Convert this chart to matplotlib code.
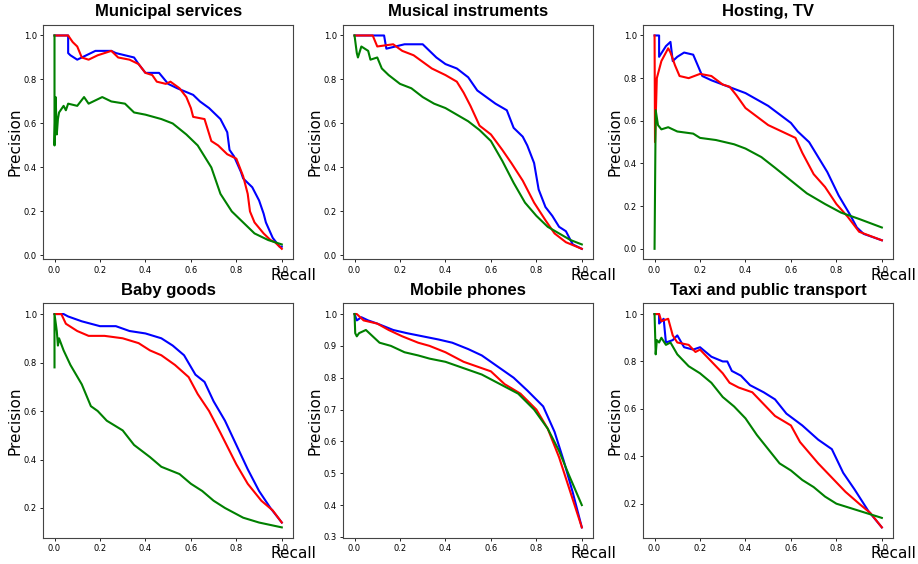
import matplotlib
matplotlib.use('Agg')
import matplotlib.pyplot as plt

titles = ['Municipal services', 'Musical instruments', 'Hosting, TV',
          'Baby goods', 'Mobile phones', 'Taxi and public transport']

# --- Municipal services
ms_blue_r = [0, 0.06, 0.06, 0.07, 0.10, 0.18, 0.25, 0.27, 0.35, 0.37, 0.40, 0.46, 0.50, 0.54, 0.61, 0.64,
             0.68, 0.73, 0.76, 0.77, 0.79, 0.82, 0.83, 0.87, 0.90, 0.92, 0.93, 0.96, 0.99, 1.0]
ms_blue_p = [1.0, 1.0, 0.92, 0.91, 0.89, 0.93, 0.93, 0.92, 0.90, 0.87, 0.83, 0.83, 0.78, 0.76, 0.73, 0.70,
             0.67, 0.62, 0.56, 0.48, 0.45, 0.38, 0.35, 0.31, 0.25, 0.19, 0.15, 0.08, 0.04, 0.04]
ms_red_r = [0, 0.06, 0.08, 0.10, 0.12, 0.15, 0.19, 0.25, 0.28, 0.33, 0.37, 0.40, 0.43, 0.45, 0.49, 0.51,
            0.55, 0.58, 0.60, 0.61, 0.66, 0.69, 0.72, 0.76, 0.80, 0.83, 0.85, 0.86, 0.88, 0.92, 0.95, 0.97, 1.0]
ms_red_p = [1.0, 1.0, 0.97, 0.95, 0.90, 0.89, 0.91, 0.93, 0.90, 0.89, 0.87, 0.83, 0.82, 0.79, 0.78, 0.79,
            0.76, 0.72, 0.67, 0.63, 0.62, 0.52, 0.50, 0.46, 0.44, 0.36, 0.28, 0.20, 0.15, 0.10, 0.07, 0.06, 0.03]
ms_green_r = [0, 0, 0.005, 0.01, 0.015, 0.02, 0.04, 0.05, 0.06, 0.10, 0.13, 0.15, 0.21, 0.25, 0.31, 0.35,
              0.40, 0.47, 0.52, 0.58, 0.63, 0.69, 0.73, 0.78, 0.84, 0.88, 0.94, 1.0]
ms_green_p = [1.0, 0.50, 0.72, 0.55, 0.62, 0.65, 0.68, 0.66, 0.69, 0.68, 0.72, 0.69, 0.72, 0.70, 0.69, 0.65,
              0.64, 0.62, 0.60, 0.55, 0.50, 0.40, 0.28, 0.20, 0.14, 0.10, 0.07, 0.05]

# --- Musical instruments
mi_blue_r = [0, 0.13, 0.14, 0.22, 0.30, 0.33, 0.36, 0.40, 0.45, 0.50, 0.54, 0.58, 0.62, 0.67, 0.70, 0.74,
             0.76, 0.79, 0.81, 0.84, 0.87, 0.90, 0.93, 0.96, 1.0]
mi_blue_p = [1.0, 1.0, 0.94, 0.96, 0.96, 0.93, 0.90, 0.87, 0.85, 0.81, 0.75, 0.72, 0.69, 0.66, 0.58, 0.54,
             0.50, 0.42, 0.30, 0.22, 0.18, 0.13, 0.11, 0.05, 0.03]
mi_red_r = [0, 0.08, 0.10, 0.17, 0.21, 0.26, 0.30, 0.34, 0.40, 0.45, 0.48, 0.51, 0.55, 0.60, 0.65, 0.69,
            0.74, 0.79, 0.84, 0.88, 0.93, 1.0]
mi_red_p = [1.0, 1.0, 0.95, 0.96, 0.93, 0.91, 0.88, 0.85, 0.82, 0.79, 0.74, 0.68, 0.59, 0.55, 0.48, 0.42,
            0.34, 0.24, 0.16, 0.10, 0.06, 0.03]
mi_green_r = [0, 0.01, 0.015, 0.03, 0.06, 0.07, 0.10, 0.12, 0.15, 0.20, 0.25, 0.30, 0.35, 0.40, 0.45, 0.50,
              0.55, 0.60, 0.65, 0.70, 0.75, 0.80, 0.85, 0.90, 0.95, 1.0]
mi_green_p = [1.0, 0.92, 0.90, 0.95, 0.93, 0.89, 0.90, 0.85, 0.82, 0.78, 0.76, 0.72, 0.69, 0.67, 0.64, 0.61,
              0.57, 0.52, 0.43, 0.33, 0.24, 0.18, 0.13, 0.10, 0.07, 0.05]

# --- Hosting, TV
ht_blue_r = [0, 0.02, 0.02, 0.05, 0.07, 0.08, 0.10, 0.13, 0.17, 0.19, 0.21, 0.25, 0.30, 0.35, 0.40, 0.45,
             0.50, 0.55, 0.60, 0.63, 0.68, 0.72, 0.76, 0.81, 0.86, 0.89, 0.92, 1.0]
ht_blue_p = [1.0, 1.0, 0.90, 0.95, 0.97, 0.88, 0.90, 0.92, 0.91, 0.86, 0.81, 0.79, 0.77, 0.75, 0.73, 0.70,
             0.67, 0.63, 0.59, 0.55, 0.50, 0.43, 0.36, 0.25, 0.16, 0.10, 0.07, 0.04]
ht_red_r = [0, 0.002, 0.01, 0.03, 0.06, 0.07, 0.09, 0.11, 0.15, 0.20, 0.25, 0.30, 0.33, 0.36, 0.40, 0.45,
            0.50, 0.56, 0.62, 0.65, 0.70, 0.75, 0.80, 0.85, 0.90, 0.95, 1.0]
ht_red_p = [1.0, 0.50, 0.80, 0.88, 0.94, 0.92, 0.86, 0.81, 0.80, 0.82, 0.81, 0.77, 0.76, 0.72, 0.66, 0.62,
            0.58, 0.55, 0.52, 0.45, 0.35, 0.29, 0.21, 0.15, 0.08, 0.06, 0.04]
ht_green_r = [0, 0.005, 0.015, 0.03, 0.06, 0.10, 0.17, 0.20, 0.27, 0.35, 0.40, 0.47, 0.53, 0.60, 0.67, 0.75,
              0.82, 0.90, 1.0]
ht_green_p = [0.0, 0.65, 0.58, 0.56, 0.57, 0.55, 0.54, 0.52, 0.51, 0.49, 0.47, 0.43, 0.38, 0.32, 0.26, 0.21,
              0.17, 0.14, 0.10]

# --- Baby goods
bg_blue_r = [0, 0.04, 0.06, 0.12, 0.20, 0.27, 0.33, 0.40, 0.47, 0.52, 0.57, 0.62, 0.66, 0.70, 0.75, 0.80,
             0.85, 0.90, 0.95, 1.0]
bg_blue_p = [1.0, 1.0, 0.99, 0.97, 0.95, 0.95, 0.93, 0.92, 0.90, 0.87, 0.83, 0.75, 0.72, 0.64, 0.56, 0.46,
             0.36, 0.27, 0.20, 0.14]
bg_red_r = [0, 0.03, 0.05, 0.10, 0.15, 0.22, 0.30, 0.37, 0.42, 0.47, 0.53, 0.59, 0.63, 0.68, 0.73, 0.80,
            0.85, 0.91, 0.96, 1.0]
bg_red_p = [1.0, 1.0, 0.96, 0.93, 0.91, 0.91, 0.90, 0.88, 0.85, 0.83, 0.79, 0.74, 0.67, 0.60, 0.51, 0.38,
            0.30, 0.23, 0.19, 0.14]
bg_green_r = [0, 0, 0.01, 0.015, 0.02, 0.04, 0.07, 0.12, 0.16, 0.19, 0.23, 0.30, 0.35, 0.42, 0.47, 0.55,
              0.60, 0.65, 0.70, 0.75, 0.83, 0.90, 1.0]
bg_green_p = [0.78, 1.0, 0.93, 0.87, 0.90, 0.85, 0.79, 0.71, 0.62, 0.60, 0.56, 0.52, 0.46, 0.41, 0.37, 0.34,
              0.30, 0.27, 0.23, 0.20, 0.16, 0.14, 0.12]

# --- Mobile phones
mp_blue_r = [0, 0.01, 0.03, 0.06, 0.10, 0.17, 0.23, 0.30, 0.37, 0.43, 0.50, 0.56, 0.62, 0.70, 0.76, 0.83,
             0.88, 0.92, 0.96, 1.0]
mp_blue_p = [1.0, 0.98, 0.99, 0.98, 0.97, 0.95, 0.94, 0.93, 0.92, 0.91, 0.89, 0.87, 0.84, 0.80, 0.76, 0.71,
             0.63, 0.54, 0.44, 0.33]
mp_red_r = [0, 0.01, 0.04, 0.10, 0.15, 0.21, 0.28, 0.33, 0.40, 0.48, 0.56, 0.60, 0.66, 0.73, 0.80, 0.85,
            0.90, 0.95, 1.0]
mp_red_p = [1.0, 1.0, 0.98, 0.97, 0.95, 0.93, 0.91, 0.90, 0.88, 0.85, 0.83, 0.82, 0.78, 0.75, 0.70, 0.64,
            0.55, 0.44, 0.33]
mp_green_r = [0, 0.003, 0.01, 0.02, 0.05, 0.08, 0.11, 0.16, 0.22, 0.28, 0.33, 0.40, 0.48, 0.56, 0.64, 0.72,
              0.79, 0.85, 0.90, 0.94, 1.0]
mp_green_p = [1.0, 0.94, 0.93, 0.94, 0.95, 0.93, 0.91, 0.90, 0.88, 0.87, 0.86, 0.85, 0.83, 0.81, 0.78, 0.75,
              0.70, 0.64, 0.57, 0.50, 0.40]

# --- Taxi and public transport
tx_blue_r = [0, 0.02, 0.02, 0.04, 0.05, 0.08, 0.10, 0.13, 0.17, 0.20, 0.25, 0.30, 0.32, 0.34, 0.38, 0.42,
             0.48, 0.53, 0.58, 0.65, 0.72, 0.78, 0.83, 0.88, 0.94, 1.0]
tx_blue_p = [1.0, 1.0, 0.96, 0.98, 0.88, 0.89, 0.91, 0.86, 0.85, 0.86, 0.82, 0.80, 0.80, 0.76, 0.74, 0.70,
             0.67, 0.64, 0.58, 0.53, 0.47, 0.43, 0.33, 0.26, 0.17, 0.10]
tx_red_r = [0, 0.02, 0.03, 0.06, 0.08, 0.10, 0.15, 0.18, 0.20, 0.25, 0.30, 0.33, 0.37, 0.43, 0.47, 0.53,
            0.60, 0.64, 0.72, 0.78, 0.84, 0.90, 0.95, 1.0]
tx_red_p = [1.0, 1.0, 0.97, 0.98, 0.91, 0.88, 0.87, 0.84, 0.85, 0.80, 0.75, 0.71, 0.69, 0.67, 0.63, 0.57,
            0.53, 0.46, 0.37, 0.31, 0.25, 0.20, 0.16, 0.10]
tx_green_r = [0, 0.005, 0.01, 0.02, 0.03, 0.05, 0.07, 0.10, 0.15, 0.20, 0.25, 0.30, 0.35, 0.40, 0.45, 0.50,
              0.55, 0.60, 0.65, 0.70, 0.75, 0.80, 0.90, 1.0]
tx_green_p = [1.0, 0.83, 0.89, 0.88, 0.90, 0.87, 0.88, 0.83, 0.78, 0.75, 0.71, 0.65, 0.61, 0.56, 0.49, 0.43,
              0.37, 0.34, 0.30, 0.27, 0.23, 0.20, 0.17, 0.14]

panels = [
    [(ms_blue_r, ms_blue_p), (ms_red_r, ms_red_p), (ms_green_r, ms_green_p)],
    [(mi_blue_r, mi_blue_p), (mi_red_r, mi_red_p), (mi_green_r, mi_green_p)],
    [(ht_blue_r, ht_blue_p), (ht_red_r, ht_red_p), (ht_green_r, ht_green_p)],
    [(bg_blue_r, bg_blue_p), (bg_red_r, bg_red_p), (bg_green_r, bg_green_p)],
    [(mp_blue_r, mp_blue_p), (mp_red_r, mp_red_p), (mp_green_r, mp_green_p)],
    [(tx_blue_r, tx_blue_p), (tx_red_r, tx_red_p), (tx_green_r, tx_green_p)],
]
colors = ['blue', 'red', 'green']

fig, axes = plt.subplots(2, 3, figsize=(9.18, 5.64), dpi=100)
plt.subplots_adjust(left=0.047, right=0.973, top=0.956, bottom=0.046, wspace=0.2, hspace=0.187)

for ax, title, curves in zip(axes.flat, titles, panels):
    for (r, p), c in zip(curves, colors):
        ax.plot(r, p, color=c, linewidth=1.5)
    ax.set_title(title, fontsize=12, fontweight='bold', family='Liberation Sans')
    ax.set_ylabel('Precision', fontsize=11, labelpad=1)
    # Recall sits at the right end of the x axis, partly over the 1.0 tick
    ax.set_xlabel('Recall', fontsize=11)
    ax.xaxis.set_label_coords(1.0, -0.035)
    ax.tick_params(labelsize=6, length=2.5, width=0.6, pad=2)
    for s in ax.spines.values():
        s.set_color('#444444')
        s.set_linewidth(0.8)

plt.savefig('out.png')
